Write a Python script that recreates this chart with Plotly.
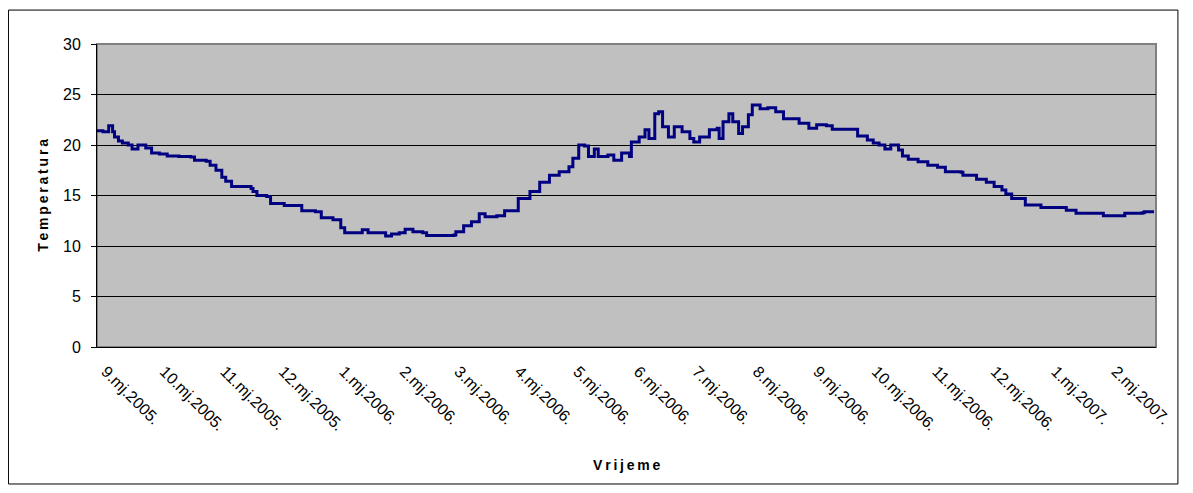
import plotly.graph_objects as go

# readings (date, temperature)
dates = [
    "2005-09-01", "2005-09-04", "2005-09-07", "2005-09-09", "2005-09-10", "2005-09-12",
    "2005-09-14", "2005-09-17", "2005-09-19", "2005-09-22", "2005-09-24", "2005-09-26",
    "2005-09-29", "2005-10-03", "2005-10-07", "2005-10-13", "2005-10-19", "2005-10-21",
    "2005-10-27", "2005-10-29", "2005-11-01", "2005-11-04", "2005-11-06", "2005-11-09",
    "2005-11-15", "2005-11-19", "2005-11-20", "2005-11-22", "2005-11-27", "2005-11-29",
    "2005-12-06", "2005-12-12", "2005-12-15", "2005-12-22", "2005-12-25", "2005-12-31",
    "2006-01-03", "2006-01-04", "2006-01-06", "2006-01-13", "2006-01-15", "2006-01-18",
    "2006-01-26", "2006-01-27", "2006-01-30", "2006-02-03", "2006-02-06", "2006-02-10",
    "2006-02-15", "2006-02-17", "2006-02-24", "2006-03-03", "2006-03-04", "2006-03-08",
    "2006-03-12", "2006-03-16", "2006-03-19", "2006-03-25", "2006-03-29", "2006-04-02",
    "2006-04-05", "2006-04-11", "2006-04-16", "2006-04-21", "2006-04-26", "2006-05-01",
    "2006-05-03", "2006-05-06", "2006-05-09", "2006-05-11", "2006-05-14", "2006-05-16",
    "2006-05-21", "2006-05-24", "2006-05-28", "2006-06-01", "2006-06-02", "2006-06-06",
    "2006-06-09", "2006-06-11", "2006-06-14", "2006-06-16", "2006-06-18", "2006-06-21",
    "2006-06-24", "2006-06-28", "2006-06-30", "2006-07-02", "2006-07-04", "2006-07-07",
    "2006-07-12", "2006-07-16", "2006-07-17", "2006-07-19", "2006-07-22", "2006-07-24",
    "2006-07-27", "2006-07-29", "2006-08-01", "2006-08-03", "2006-08-07", "2006-08-11",
    "2006-08-15", "2006-08-19", "2006-08-24", "2006-08-27", "2006-09-01", "2006-09-05",
    "2006-09-10", "2006-09-13", "2006-09-23", "2006-09-26", "2006-10-01", "2006-10-04",
    "2006-10-07", "2006-10-10", "2006-10-13", "2006-10-16", "2006-10-17", "2006-10-19",
    "2006-10-22", "2006-10-27", "2006-11-01", "2006-11-06", "2006-11-10", "2006-11-18",
    "2006-11-19", "2006-11-24", "2006-11-26", "2006-12-01", "2006-12-05", "2006-12-09",
    "2006-12-11", "2006-12-14", "2006-12-19", "2006-12-21", "2006-12-27", "2006-12-29",
    "2007-01-10", "2007-01-11", "2007-01-16", "2007-01-28", "2007-01-30", "2007-02-09",
    "2007-02-10", "2007-02-19", "2007-02-20", "2007-02-25",
]
temps = [
    21.4, 21.3, 21.9, 21.3, 20.8, 20.4,
    20.2, 20.0, 19.6, 20.0, 20.0, 19.7,
    19.2, 19.1, 18.9, 18.85, 18.8, 18.5,
    18.4, 18.0, 17.5, 16.8, 16.4, 15.9,
    15.9, 15.7, 15.4, 15.0, 14.9, 14.2,
    14.0, 14.0, 13.5, 13.4, 12.8, 12.6,
    12.6, 11.8, 11.3, 11.3, 11.6, 11.3,
    11.3, 11.0, 11.2, 11.3, 11.65, 11.4,
    11.3, 11.05, 11.05, 11.1, 11.4, 12.0,
    12.4, 13.2, 12.9, 13.0, 13.5, 13.5,
    14.7, 15.4, 16.3, 17.0, 17.35, 17.85,
    18.7, 20.0, 19.9, 18.85, 19.6, 18.85,
    19.0, 18.5, 19.2, 18.85, 20.3, 20.8,
    21.5, 20.65, 23.1, 23.3, 21.8, 20.8,
    21.8, 21.3, 21.3, 20.65, 20.3, 20.8,
    21.5, 21.65, 20.65, 22.3, 23.1, 22.3,
    21.15, 21.8, 23.0, 23.95, 23.6, 23.7,
    23.3, 22.6, 22.6, 22.15, 21.65, 22.0,
    21.9, 21.55, 21.55, 20.9, 20.5, 20.2,
    20.0, 19.6, 20.0, 20.0, 19.5, 18.9,
    18.6, 18.35, 18.0, 17.8, 17.35, 17.3,
    17.0, 17.0, 16.6, 16.3, 15.9, 15.55,
    15.15, 14.7, 14.7, 14.05, 14.05, 13.8,
    13.8, 13.55, 13.25, 13.25, 13.0, 13.0,
    13.25, 13.3, 13.4, 13.4,
]

tick_dates = [
    "2005-09-01", "2005-10-01", "2005-11-01", "2005-12-01", "2006-01-01", "2006-02-01",
    "2006-03-01", "2006-04-01", "2006-05-01", "2006-06-01", "2006-07-01", "2006-08-01",
    "2006-09-01", "2006-10-01", "2006-11-01", "2006-12-01", "2007-01-01", "2007-02-01",
]
tick_labels = [
    "9.mj.2005.", "10.mj.2005.", "11.mj.2005.", "12.mj.2005.", "1.mj.2006.", "2.mj.2006.",
    "3.mj.2006.", "4.mj.2006.", "5.mj.2006.", "6.mj.2006.", "7.mj.2006.", "8.mj.2006.",
    "9.mj.2006.", "10.mj.2006.", "11.mj.2006.", "12.mj.2006.", "1.mj.2007.", "2.mj.2007.",
]

font = "Liberation Sans, Arial, sans-serif"
ts = "\u2009"  # thin space, Excel draws these titles letter-spaced

fig = go.Figure()
fig.add_trace(go.Scatter(x=dates, y=temps, mode="lines",
                         line=dict(color="#000080", width=3, shape="hv"),
                         showlegend=False))

fig.update_layout(
    width=1177, height=477,
    margin=dict(l=89, r=23, t=36, b=138),
    paper_bgcolor="white", plot_bgcolor="#C0C0C0",
    font=dict(family=font, size=16, color="black"),
    xaxis=dict(type="date", range=["2005-09-01", "2007-02-26"],
               tickvals=tick_dates, ticktext=tick_labels, tickangle=45,
               ticklabelshift=9, ticklabelstandoff=8,
               showgrid=False, showline=True, linecolor="black", linewidth=1,
               ticks="", tickfont=dict(size=16), zeroline=False),
    yaxis=dict(range=[0, 30], dtick=5, showgrid=True, gridcolor="black", gridwidth=1,
               showline=True, linecolor="black", linewidth=1, ticks="outside",
               ticklen=5, tickcolor="black", zeroline=False, tickfont=dict(size=16),
               ticklabelstandoff=7),
    shapes=[
        # plot area border
        dict(type="rect", xref="paper", yref="paper", x0=0, x1=1, y0=0, y1=1,
             line=dict(color="#808080", width=2), layer="below"),
        # chart area border
        dict(type="rect", xref="paper", yref="paper", x0=-0.0836, x1=1.0207,
             y0=-0.4521, y1=1.112, line=dict(color="black", width=1)),
    ],
    annotations=[
        dict(text="<b>" + ts.join("Temperatura") + "</b>", xref="paper", yref="paper",
             x=-0.0516, y=0.5, textangle=-90, showarrow=False, font=dict(size=14),
             xanchor="center", yanchor="middle"),
        dict(text="<b>" + ts.join("Vrijeme") + "</b>", xref="paper", yref="paper",
             x=0.5, y=-0.389, showarrow=False, font=dict(size=14),
             xanchor="center", yanchor="middle"),
    ],
)

fig.write_html("out.html")
